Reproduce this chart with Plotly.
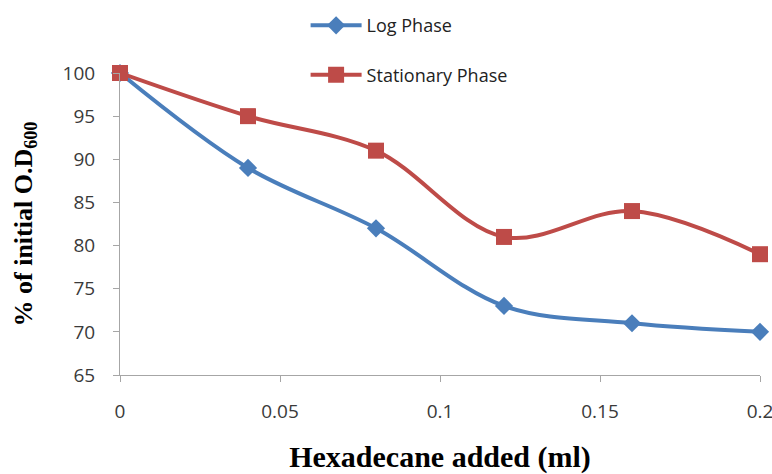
import plotly.graph_objects as go

hexadecane_ml = [0, 0.04, 0.08, 0.12, 0.16, 0.2]
log_phase = [100, 89, 82, 73, 71, 70]
stationary_phase = [100, 95, 91, 81, 84, 79]

blue = '#4A7EBB'
red = '#BE4B48'
axis_grey = '#A6A6A6'
tick_font = dict(family='Open Sans, Liberation Sans, sans-serif', size=19, color='#3a3a3a')

fig = go.Figure()
fig.add_trace(go.Scatter(
    x=hexadecane_ml, y=log_phase, name='Log Phase', mode='lines+markers',
    line=dict(color=blue, width=4, shape='spline', smoothing=1),
    marker=dict(symbol='diamond', size=14, color=blue),
    cliponaxis=False, legendgroup='a'))
fig.add_trace(go.Scatter(
    x=hexadecane_ml, y=stationary_phase, name='Stationary Phase', mode='lines+markers',
    line=dict(color=red, width=4, shape='spline', smoothing=1),
    marker=dict(symbol='square', size=16, color=red),
    cliponaxis=False, legendgroup='b'))

fig.update_layout(
    width=772, height=474,
    margin=dict(l=120, r=12, t=73, b=99, autoexpand=False),
    plot_bgcolor='white', paper_bgcolor='white',
    showlegend=True,
    legend=dict(x=0.29, y=1.218, xanchor='left', yanchor='top',
                traceorder='grouped', tracegroupgap=23, itemwidth=51,
                font=dict(family='Open Sans, Liberation Sans, sans-serif', size=18, color='#222'),
                bgcolor='rgba(0,0,0,0)'),
    xaxis=dict(range=[0, 0.2], tickvals=[0, 0.05, 0.1, 0.15, 0.2],
               ticktext=['0', '0.05', '0.1', '0.15', '0.2'],
               showgrid=False, zeroline=False, showline=True, linecolor=axis_grey,
               linewidth=1, ticks='outside', tickcolor=axis_grey, ticklen=6,
               tickfont=tick_font, ticklabelstandoff=13, ticklabeloverflow='allow',
               automargin=False,
               title=dict(text='<b>Hexadecane added (ml)</b>', standoff=26,
                          font=dict(family='Liberation Serif, serif', size=30, color='black'))),
    yaxis=dict(range=[65, 100], dtick=5,
               showgrid=False, zeroline=False, showline=True, linecolor=axis_grey,
               linewidth=1, ticks='outside', tickcolor=axis_grey, ticklen=6,
               tickfont=tick_font, ticklabelstandoff=14, ticklabeloverflow='allow',
               automargin=False,
               title=dict(text='<b>% of initial O.D<sub>600</sub></b>', standoff=22,
                          font=dict(family='Liberation Serif, serif', size=26, color='black'))),
)

# drop the default body margin so the figure sits at the window's corner
fig.write_html("out.html", config={'displayModeBar': False},
               post_script="document.body.style.margin='0';")
